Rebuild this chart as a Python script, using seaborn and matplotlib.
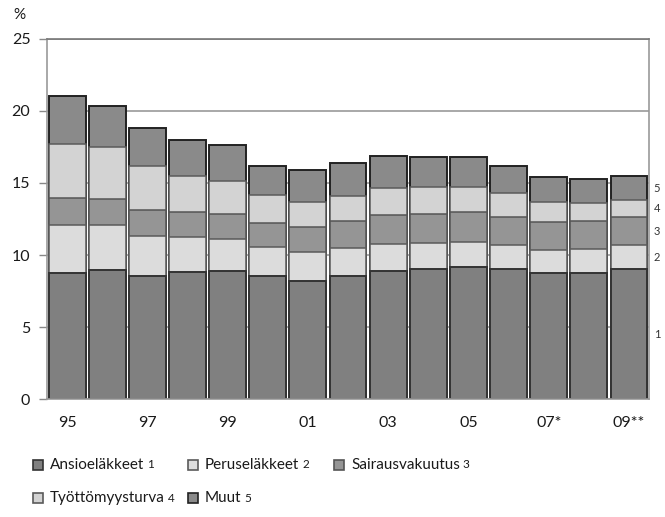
import numpy as np
import pandas as pd
import matplotlib
matplotlib.use("Agg")
import matplotlib.pyplot as plt
from matplotlib.patches import Rectangle
import seaborn as sns

years = ["95", "96", "97", "98", "99", "00", "01", "02", "03", "04", "05", "06", "07*", "08", "09**"]
ansio = [8.77, 8.96, 8.56, 8.82, 8.87, 8.52, 8.22, 8.56, 8.91, 9.05, 9.17, 9.00, 8.77, 8.73, 9.00]
perus = [3.29, 3.10, 2.78, 2.43, 2.26, 2.04, 1.97, 1.95, 1.88, 1.78, 1.73, 1.67, 1.58, 1.71, 1.67]
sairaus = [1.92, 1.85, 1.79, 1.71, 1.69, 1.69, 1.73, 1.85, 1.96, 2.02, 2.06, 1.99, 1.94, 1.94, 1.99]
tyott = [3.75, 3.57, 3.07, 2.53, 2.30, 1.92, 1.78, 1.76, 1.93, 1.90, 1.79, 1.62, 1.37, 1.21, 1.14]
muut = [3.33, 2.87, 2.64, 2.47, 2.54, 1.99, 2.23, 2.25, 2.22, 2.08, 2.03, 1.92, 1.78, 1.71, 1.69]

names = ["Ansioeläkkeet", "Peruseläkkeet", "Sairausvakuutus", "Työttömyysturva", "Muut"]
colors = ["#808080", "#dcdcdc", "#959595", "#d3d3d3", "#8a8a8a"]
edges = ["#333333", "#5a5a5a", "#555555", "#5a5a5a", "#222222"]

parts = np.array([ansio, perus, sairaus, tyott, muut])
cum = parts.cumsum(axis=0)

sns.set_style("white")
plt.rcParams["font.family"] = ["Lato", "DejaVu Sans"]

fig = plt.figure(figsize=(6.65, 5.17), dpi=100)
ax = fig.add_axes([0.0707, 0.2282, 0.9053, 0.6964])

# draw stacked bars from the top layer down
for i in range(4, -1, -1):
    df = pd.DataFrame({"year": years, "value": cum[i]})
    sns.barplot(data=df, x="year", y="value", color=colors[i], width=0.92,
                edgecolor=edges[i], linewidth=1.4 if i in (0, 4) else 1.1,
                saturation=1, ax=ax, zorder=2)

ax.set_ylim(0, 25)
ax.set_xlim(-0.5, len(years) - 0.5)
ax.set_yticks([0, 5, 10, 15, 20, 25])
ax.yaxis.grid(True, color="#999999", linewidth=1.2, zorder=0)
ax.set_axisbelow(True)
ax.set_xticks(range(0, len(years), 2))
ax.set_xticklabels(years[::2])
ax.set_xlabel("")
ax.set_ylabel("")
ax.tick_params(axis="x", length=0, pad=12, labelsize=11.5, colors="#1a1a1a")
ax.tick_params(axis="y", length=6, width=1, color="#888888", pad=6,
               labelsize=11.5, labelcolor="#1a1a1a", left=True)
for side in ["left", "right", "top", "bottom"]:
    ax.spines[side].set_visible(True)
    ax.spines[side].set_color("#999999")
    ax.spines[side].set_linewidth(1.2)
ax.spines["top"].set_color("#777777")

fig.text(13 / 665, 1 - 15 / 517, "%", fontsize=11, color="#1a1a1a", va="center")

# numbers beside the last bar
last = len(years) - 1
mids = cum[:, last] - parts[:, last] / 2
for k, m in enumerate(mids):
    ax.text(1.013, m, str(k + 1), transform=ax.get_yaxis_transform(),
            fontsize=8, color="#333333", va="center", ha="center")

# legend drawn by hand
rows = [(465, [(0, 38), (1, 193), (2, 339)]), (498, [(3, 38), (4, 193)])]
for y, items in rows:
    for k, x in items:
        fig.add_artist(Rectangle(((x - 5) / 665, 1 - (y + 5) / 517), 10 / 665, 10 / 517,
                                 transform=fig.transFigure, facecolor=colors[k],
                                 edgecolor=edges[k], linewidth=1.2))
        t = fig.text((x + 12) / 665, 1 - y / 517, names[k], fontsize=11,
                     color="#1a1a1a", va="center")
        fig.canvas.draw()
        bb = t.get_window_extent()
        fig.text((bb.x1 + 3) / 665, 1 - y / 517, str(k + 1), fontsize=8.5,
                 color="#1a1a1a", va="center")

fig.savefig("out.png", dpi=100)
